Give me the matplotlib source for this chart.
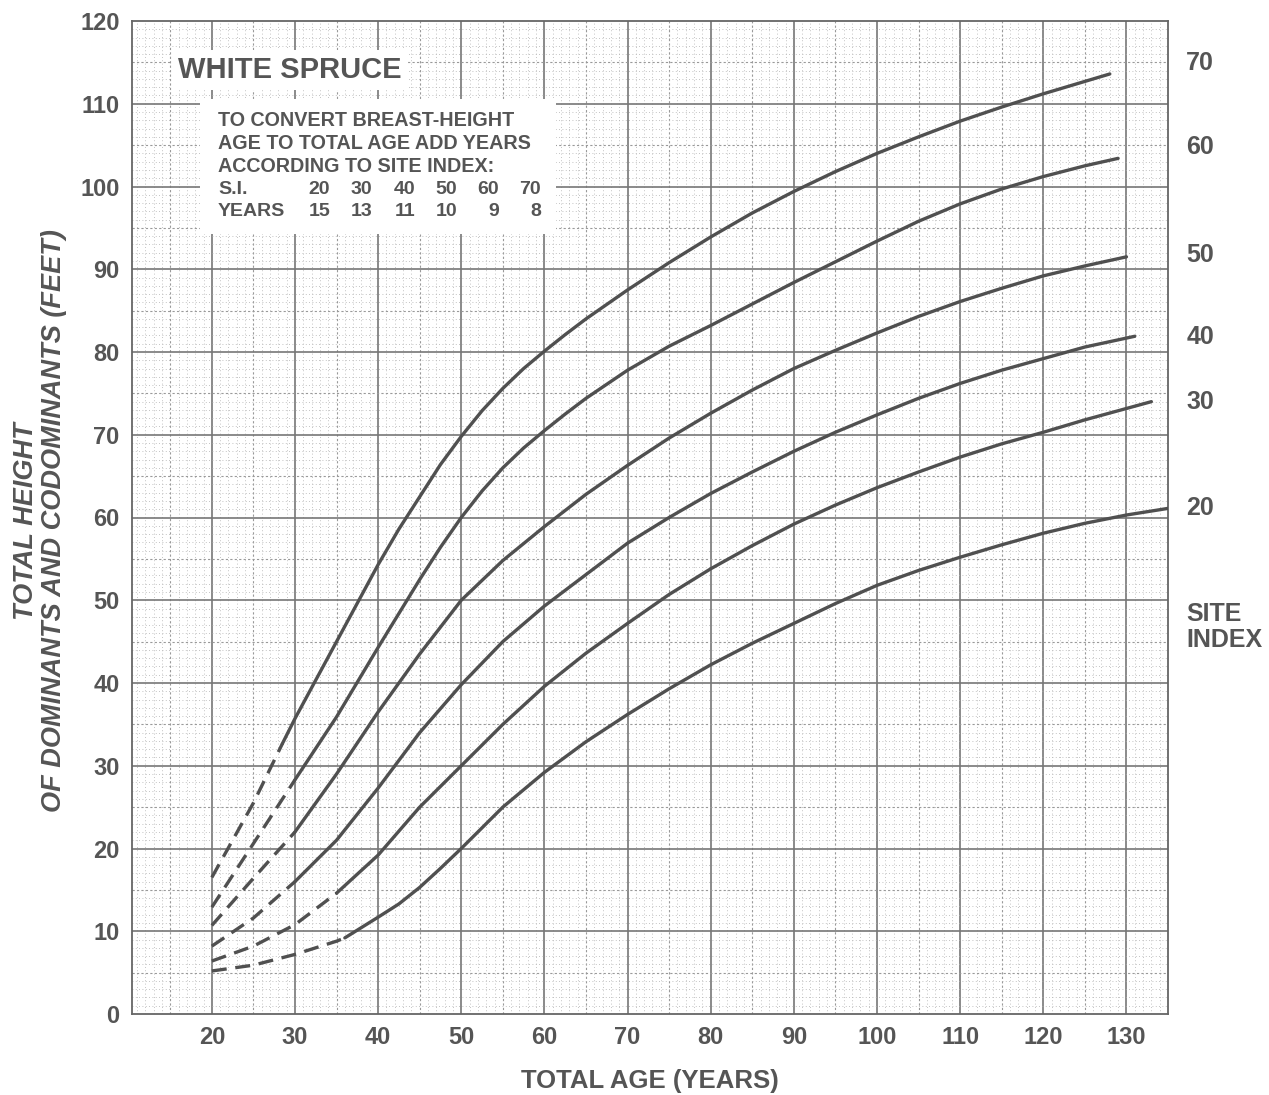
import matplotlib
matplotlib.use("Agg")
import matplotlib.pyplot as plt
import numpy as np

plt.rcParams['font.family'] = ['Liberation Sans', 'DejaVu Sans']

# ---- data (total age in years, height in feet) ----
site_indices = [20, 30, 40, 50, 60, 70]

age_si20 = [20, 25, 30, 35, 36, 40, 42.5, 45, 47.5, 50, 55, 60, 65, 70, 75, 80, 85, 90, 95, 100, 105, 110, 115, 120, 125, 130, 135]
ht_si20 = [5.2, 5.9, 7.2, 8.8, 9.2, 11.7, 13.3, 15.3, 17.6, 20.0, 25.0, 29.2, 32.9, 36.2, 39.3, 42.2, 44.8, 47.2, 49.6, 51.8, 53.6, 55.2, 56.7, 58.1, 59.3, 60.3, 61.1]

age_si30 = [20, 25, 30, 35, 40, 45, 50, 55, 60, 65, 70, 75, 80, 85, 90, 95, 100, 105, 110, 115, 120, 125, 133]
ht_si30 = [6.4, 8.2, 10.8, 14.6, 19.2, 25.0, 30.0, 35.0, 39.6, 43.6, 47.2, 50.7, 53.8, 56.6, 59.2, 61.5, 63.6, 65.5, 67.3, 68.9, 70.3, 71.8, 74.0]

age_si40 = [20, 25, 30, 35, 40, 45, 50, 55, 60, 65, 70, 75, 80, 85, 90, 95, 100, 105, 110, 115, 120, 125, 131]
ht_si40 = [8.2, 11.6, 16.0, 21.0, 27.3, 34.0, 39.8, 45.0, 49.3, 53.1, 56.9, 60.0, 62.9, 65.5, 68.0, 70.3, 72.4, 74.4, 76.2, 77.8, 79.2, 80.6, 81.9]

age_si50 = [20, 25, 30, 35, 40, 45, 50, 55, 60, 65, 70, 75, 80, 85, 90, 95, 100, 105, 110, 115, 120, 125, 130]
ht_si50 = [10.7, 16.4, 22.0, 29.0, 36.5, 43.5, 50.0, 54.8, 58.9, 62.8, 66.3, 69.6, 72.6, 75.4, 78.0, 80.2, 82.3, 84.3, 86.1, 87.7, 89.2, 90.4, 91.5]

age_si60 = [20, 25, 30, 35, 40, 45, 47.5, 50, 52.5, 55, 57.5, 60, 62.5, 65, 70, 75, 80, 85, 90, 95, 100, 105, 110, 115, 120, 125, 129]
ht_si60 = [12.9, 20.6, 28.3, 35.9, 44.3, 52.5, 56.4, 60.0, 63.2, 66.0, 68.4, 70.5, 72.5, 74.4, 77.8, 80.7, 83.2, 85.8, 88.4, 90.9, 93.4, 95.8, 97.9, 99.7, 101.2, 102.5, 103.4]

age_si70 = [20, 25, 28.5, 30, 35, 40, 42.5, 45, 47.5, 50, 52.5, 55, 57.5, 60, 62.5, 65, 70, 75, 80, 85, 90, 95, 100, 105, 110, 115, 120, 125, 128]
ht_si70 = [16.5, 25.5, 32.7, 35.7, 45.0, 54.3, 58.6, 62.5, 66.4, 69.8, 72.9, 75.6, 78.0, 80.1, 82.1, 84.0, 87.5, 90.8, 93.9, 96.8, 99.4, 101.8, 104.0, 106.0, 107.9, 109.6, 111.2, 112.7, 113.6]

# age up to which each curve is drawn dashed (projected part)
projected_until = [36, 35, 30, 30, 30, 28.5]

# right-hand site index label heights
si_label_heights = [61.1, 74.0, 81.8, 91.7, 104.8, 114.9]

x_ticks = [20, 30, 40, 50, 60, 70, 80, 90, 100, 110, 120, 130]
y_ticks = [0, 10, 20, 30, 40, 50, 60, 70, 80, 90, 100, 110, 120]

table_si = [20, 30, 40, 50, 60, 70]
table_years = [15, 13, 11, 10, 9, 8]

# ---- figure ----
W, H = 1269, 1095
fig = plt.figure(figsize=(W / 100, H / 100), dpi=100)
AX_L, AX_R, AX_T, AX_B = 132, 1168, 21, 1014
ax = fig.add_axes([AX_L / W, 1 - AX_B / H, (AX_R - AX_L) / W, (AX_B - AX_T) / H])

XMIN, XMAX = 10.4, 135.0
ax.set_xlim(XMIN, XMAX)
ax.set_ylim(0, 120)

txt = '#555555'
line_c = '#505050'

# graph-paper grid
for v in np.arange(11, 135, 1):
    if v % 10 == 0:
        ax.axvline(v, color='#777777', lw=1.2, zorder=1)
    elif v % 5 == 0:
        ax.axvline(v, color='#999999', lw=0.8, ls=(0, (2, 2)), zorder=1)
    else:
        ax.axvline(v, color='#b0b0b0', lw=0.6, ls=(0, (1, 3)), zorder=1)
for v in np.arange(1, 120, 1):
    if v % 10 == 0:
        ax.axhline(v, color='#777777', lw=1.2, zorder=1)
    elif v % 5 == 0:
        ax.axhline(v, color='#999999', lw=0.8, ls=(0, (2, 2)), zorder=1)
    else:
        ax.axhline(v, color='#b0b0b0', lw=0.6, ls=(0, (1, 3)), zorder=1)

ages = [age_si20, age_si30, age_si40, age_si50, age_si60, age_si70]
hts = [ht_si20, ht_si30, ht_si40, ht_si50, ht_si60, ht_si70]
for a, h, cut in zip(ages, hts, projected_until):
    a = np.array(a, float)
    h = np.array(h, float)
    d = a <= cut
    s = a >= cut
    ax.plot(a[d], h[d], color=line_c, lw=2.4, ls=(0, (4.5, 2.6)), zorder=4,
            dash_capstyle='butt')
    ax.plot(a[s], h[s], color=line_c, lw=2.4, zorder=4, solid_capstyle='round',
            solid_joinstyle='round')

# ticks
ax.set_xticks(x_ticks)
ax.set_yticks(y_ticks)
ax.tick_params(length=0, labelsize=17, labelcolor=txt)
ax.tick_params(axis='x', pad=9)
ax.tick_params(axis='y', pad=9)
for lab in ax.get_xticklabels() + ax.get_yticklabels():
    lab.set_fontweight('bold')
for sp in ax.spines.values():
    sp.set_color('#666666')
    sp.set_linewidth(1.3)

ax.set_xlabel('TOTAL AGE (YEARS)', fontsize=18.5, fontweight='bold', color=txt, labelpad=14)
fig.text(40 / W, 1 - 521 / H, 'TOTAL HEIGHT\nOF DOMINANTS AND CODOMINANTS (FEET)',
         rotation=90, ha='center', va='center', fontsize=19.5, fontweight='bold',
         fontstyle='italic', color=txt, linespacing=1.12)

# right-hand site index labels
for si, yv in zip(site_indices, si_label_heights):
    ax.text(137.2, yv, str(si), fontsize=18, fontweight='bold', color=txt,
            ha='left', va='center', clip_on=False)
ax.text(137.2, 46.8, 'SITE\nINDEX', fontsize=18, fontweight='bold', color=txt,
        ha='left', va='center', clip_on=False, linespacing=1.1)

def axfrac_x(px):
    return (px - AX_L) / (AX_R - AX_L)

def axfrac_y(py):
    return 1 - (py - AX_T) / (AX_B - AX_T)

# title box
ax.text(axfrac_x(178), axfrac_y(70), 'WHITE SPRUCE', transform=ax.transAxes,
        fontsize=21, fontweight='bold', color=txt, ha='left', va='center', zorder=6,
        bbox=dict(facecolor='white', edgecolor='none', pad=4))

# conversion table box
x0, x1 = axfrac_x(200), axfrac_x(556)
y0, y1 = axfrac_y(234), axfrac_y(99)
ax.add_patch(plt.Rectangle((x0, y0), x1 - x0, y1 - y0, transform=ax.transAxes,
                           facecolor='white', edgecolor='none', zorder=5))
lines = ['TO CONVERT BREAST-HEIGHT', 'AGE TO TOTAL AGE ADD YEARS', 'ACCORDING TO SITE INDEX:']
lx = axfrac_x(218)
for i, t in enumerate(lines):
    ax.text(lx, axfrac_y(121 + 22.8 * i), t, transform=ax.transAxes, fontsize=14.2,
            color=txt, fontweight='bold', ha='left', va='center', zorder=6)
row_y = [axfrac_y(190), axfrac_y(212)]
ax.text(lx, row_y[0], 'S.I.', transform=ax.transAxes, fontsize=14, color=txt,
        fontweight='bold', ha='left', va='center', zorder=6)
ax.text(lx, row_y[1], 'YEARS', transform=ax.transAxes, fontsize=14, color=txt,
        fontweight='bold', ha='left', va='center', zorder=6)
col_px = [330, 372, 415, 457, 499, 541]
for cp, si, yrs in zip(col_px, table_si, table_years):
    cx = axfrac_x(cp)
    ax.text(cx, row_y[0], str(si), transform=ax.transAxes, fontsize=14, color=txt,
            fontweight='bold', ha='right', va='center', zorder=6)
    ax.text(cx, row_y[1], str(yrs), transform=ax.transAxes, fontsize=14, color=txt,
            fontweight='bold', ha='right', va='center', zorder=6)

fig.savefig('out.png', dpi=100, facecolor='white')
